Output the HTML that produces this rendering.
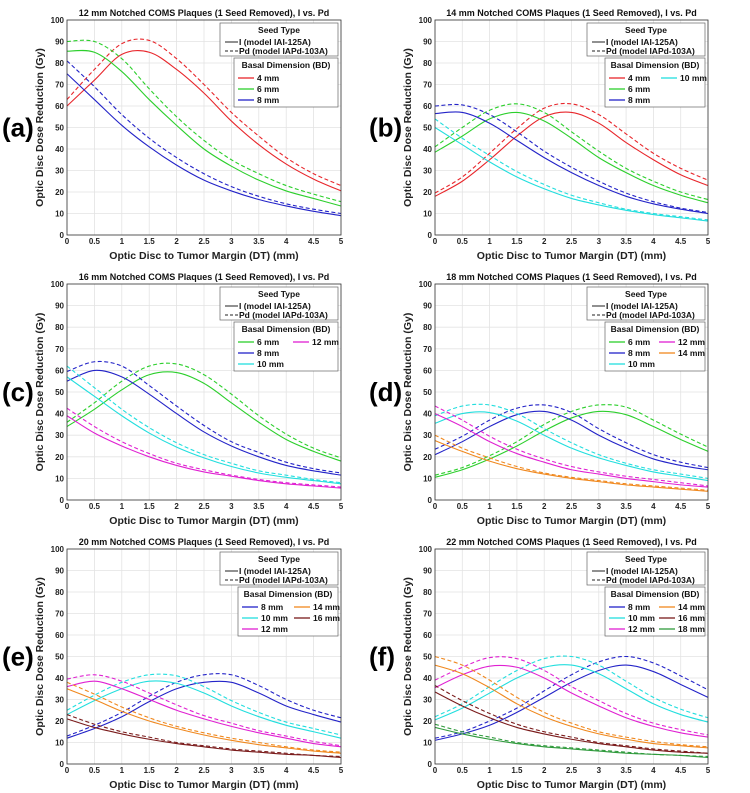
<!DOCTYPE html>
<html><head><meta charset="utf-8">
<style>
html,body{margin:0;padding:0;background:#fff;}
svg{display:block;font-family:"Liberation Sans",Arial,sans-serif;}
</style></head>
<body>
<svg id="fig" width="750" height="793" viewBox="0 0 750 793" xmlns="http://www.w3.org/2000/svg"></svg>
<script>
// shared x grid (mm)
const xGrid = [0,0.5,1,1.5,2,2.5,3,3.5,4,4.5,5];
const xTicks = [0,0.5,1,1.5,2,2.5,3,3.5,4,4.5,5];
const xTickLabels = ["0","0.5","1","1.5","2","2.5","3","3.5","4","4.5","5"];
const yTicks = [0,10,20,30,40,50,60,70,80,90,100];

// Panel (a) 12 mm
const aLabels = ["4  mm","6  mm","8  mm"];
const aI = [[60,72,84,85,77,66,53,42,33,26,20.5],[85.5,85,76,63,51,40,32,25.5,20.5,17,13.5],[75,63,51,41,32.5,25.5,20.5,16.5,13.5,11,9]];
const aPd = [[63,77,89,90.5,82,70,57,46,36,28.5,23],[90,90,82,68,55,44,35,28.5,23,19,15.5],[81,69,56,45,36,28.5,22.5,18,14.5,12,10]];
// Panel (b) 14 mm
const bLabels = ["4  mm","6  mm","8  mm","10 mm"];
const bI = [[18,25,35,46,55,57,52,43,35,28,23],[38.5,46,54,57,53,45,36,29,23,18.5,15],[56.5,57,52,44,36,29,23,18,14.5,12,10],[50,42,34,27,21.5,17,14,11.5,9.5,8,6.5]];
const bPd = [[19.5,27,38,49.5,59,61,56,47,38,31,25.5],[41,50,58,61,57,48,39,31,25,20,16.5],[60,60.5,56,48,39,31.5,25,19.5,15.5,12.5,10.5],[54,45,37,29.5,23.5,18.5,15,12,10,8.5,7]];
// Panel (c) 16 mm
const cLabels = ["6  mm","8  mm","10  mm","12 mm"];
const cI = [[34,42,51,58,59,54,45,36,28,22.5,18],[55,60,57,49,40,31.5,25,20,16,13.5,11.5],[57,48,39,31,24.5,19.5,15.5,12.5,10.5,9,7.5],[39,31,25,20,16,13,11,9,7.5,6.5,5.5]];
const cPd = [[36,45,55,62,63,58,49,39,30.5,24,19.5],[59.5,64,62,53,43.5,34.5,27,22,17.5,14.5,12.5],[62,52,42,33.5,26.5,21,17,13.5,11.5,9.5,8],[42.5,34,27,21.5,17,14,11.5,9.5,8,7,6]];
// Panel (d) 18 mm
const dLabels = ["6  mm","8  mm","10 mm","12 mm","14 mm"];
const dI = [[10.5,14,19,25,32,38,41,39.5,34,28,22.5],[21,27,34,39.5,41,37,30,24,19,16,14],[35.5,40,40.5,36.5,30,24,19.5,16,13,11,9],[40,34,27,21.5,17.5,14,12,10,8.5,7,6],[27.5,22.5,18,14.5,12,10,8.5,7,6,5,4]];
const dPd = [[11.5,15,20.5,27,35,41,44,43,37,30.5,24.5],[23.5,29.5,37,42.5,44,40.5,33,26.5,21,17.5,15],[39,43.5,44,40,33,26.5,21,17,14,12,10],[43.5,37,29.5,23.5,19,15.5,13,11,9.5,8,6.5],[30,24,19.5,15.5,12.5,10.5,9,7.5,6.5,5.5,4.5]];
// Panel (e) 20 mm
const eLabels = ["8  mm","10 mm","12 mm","14 mm","16 mm"];
const eI = [[12,16.5,22,29,35,38,38,33,27,23,19.5],[23,29.5,35,38.5,37.5,33,27,22,18,15,12],[36,38.5,35,30,25,21,17.5,14.5,12,9.5,8],[35,30,24.5,20,16.5,13.5,11,9,7.5,6,5],[21,17,14,11.5,9.5,8,6.5,5.5,4.5,4,3]];
const ePd = [[13,18,24,31.5,38,41.5,41.5,36.5,30,25,21.5],[25,32,38,41.5,41,36,29.5,24,19.5,16.5,13.5],[39.5,41.5,38.5,33,27.5,22.5,19,15.5,13,10.5,8.5],[38,32.5,26.5,21.5,17.5,14.5,12,10,8,6.5,5.5],[23,18.5,15,12.5,10,8.5,7,6,5,4,3.5]];
// Panel (f) 22 mm
const fLabels = ["8  mm","10 mm","12 mm","14 mm","16 mm","18 mm"];
const fI = [[11,14,18,24,31,38,43.5,46,43,37,31],[20.5,26,33,40,45,46,42,35,28,23,19.5],[35.5,41.5,45.5,45,40,33,27,21.5,17.5,14.5,12.5],[46,42,35.5,28,22,17.5,14,11.5,9.5,8.5,7.5],[33.5,27,21.5,17,14,11.5,9.5,8,6.5,5.5,5],[17,14,11.5,9.5,8,7,6,5,4.5,4,3]];
const fPd = [[12,15,20,26,34,41.5,47.5,50,47,41,34.5],[22,28,36,43.5,49,50,46,38.5,31,25.5,21.5],[39,45,49.5,49,43.5,36,29.5,23.5,19,16,13.5],[50,46,39,31,24,19,15,12.5,10.5,9,8],[36.5,29.5,23.5,18.5,15,12.5,10,8.5,7,6,5],[18.5,15,12.5,10,8.5,7.5,6.5,5.5,4.5,4,3.5]];

const COL = {red:"#e8262b",green:"#2ccf2c",blue:"#2323c8",cyan:"#22dede",mag:"#e021d2",orange:"#f0881e",dred:"#7a1b1b",dgreen:"#2f9a3c"};
const NS = "http://www.w3.org/2000/svg";
const svg = document.getElementById('fig');
function mk(tag, attrs, parent, txt){
  const e = document.createElementNS(NS, tag);
  for (const k in attrs) e.setAttribute(k, attrs[k]);
  if (txt !== undefined) e.textContent = txt;
  (parent||svg).appendChild(e);
  return e;
}
function smoothPath(pts){
  let d = "M"+pts[0][0].toFixed(2)+","+pts[0][1].toFixed(2);
  for (let i=0;i<pts.length-1;i++){
    const p0=pts[Math.max(0,i-1)], p1=pts[i], p2=pts[i+1], p3=pts[Math.min(pts.length-1,i+2)];
    const c1=[p1[0]+(p2[0]-p0[0])/6, p1[1]+(p2[1]-p0[1])/6];
    const c2=[p2[0]-(p3[0]-p1[0])/6, p2[1]-(p3[1]-p1[1])/6];
    d += " C"+c1[0].toFixed(2)+","+c1[1].toFixed(2)+" "+c2[0].toFixed(2)+","+c2[1].toFixed(2)+" "+p2[0].toFixed(2)+","+p2[1].toFixed(2);
  }
  return d;
}
function panel(cfg){
  const g = mk('g', {});
  
  
  const X = v => cfg.x0 + (cfg.x1-cfg.x0)*v/5;
  const Y = v => cfg.y0 - (cfg.y0-cfg.y1)*v/100;
  xTicks.forEach(t=>{ const l=mk('line',{x1:X(t),x2:X(t),y1:cfg.y1,y2:cfg.y0,stroke:"#e3e3e3","stroke-width":0.8},g);
      });
  yTicks.forEach(t=>{ const l=mk('line',{x1:cfg.x0,x2:cfg.x1,y1:Y(t),y2:Y(t),stroke:"#e3e3e3","stroke-width":0.8},g);
      });
  xTicks.forEach((t,i)=>{ const tx=mk('text',{x:X(t),y:cfg.y0+9,"font-size":8,"font-weight":"bold","text-anchor":"middle",fill:"#222"},g,xTickLabels[i]);
      });
  yTicks.forEach(t=>{ const tx=mk('text',{x:cfg.x0-3,y:Y(t)+3,"font-size":8,"font-weight":"bold","text-anchor":"end",fill:"#222"},g,String(t));
      });
  cfg.I.forEach((s,k)=>{
    const pd = mk('path',{d:smoothPath(xGrid.map((x,i)=>[X(x),Y(cfg.Pd[k][i])])),fill:"none",stroke:cfg.colors[k],"stroke-width":1.1,"stroke-dasharray":"4,2.5"},g);
    
    
    const pi = mk('path',{d:smoothPath(xGrid.map((x,i)=>[X(x),Y(s[i])])),fill:"none",stroke:cfg.colors[k],"stroke-width":1.1},g);
    
    
  });
  const fr = mk('rect',{x:cfg.x0,y:cfg.y1,width:cfg.x1-cfg.x0,height:cfg.y0-cfg.y1,fill:"none",stroke:"#333","stroke-width":0.8},g);
   
  const ti = mk('text',{x:(cfg.x0+cfg.x1)/2,y:cfg.y1-4,"font-size":9,"font-weight":"bold","text-anchor":"middle",fill:"#111"},g,cfg.title);
   
  const xl = mk('text',{x:(cfg.x0+cfg.x1)/2,y:cfg.y0+24,"font-size":10.5,"font-weight":"bold","text-anchor":"middle",fill:"#222"},g,"Optic Disc to Tumor Margin (DT) (mm)");
   
  const yc=(cfg.y0+cfg.y1)/2, yx=cfg.x0-24;
  const yl = mk('text',{x:yx,y:yc,"font-size":10.5,"font-weight":"bold","text-anchor":"middle",fill:"#222",transform:"rotate(-90 "+yx+" "+yc+")"},g,"Optic Disc Dose Reduction (Gy)");
   
  const pl = mk('text',{x:cfg.lx,y:yc+9,"font-size":26,"font-weight":"bold",fill:"#000"},g,"("+cfg.id+")");
   
  const r = cfg.x1-3, sw=118, st=cfg.y1+3;
  const lg = mk('g',{},g);
   
  mk('rect',{x:r-sw,y:st,width:sw,height:33,fill:"#fff",stroke:"#666","stroke-width":0.7},lg);
  mk('text',{x:r-sw/2,y:st+10,"font-size":8.5,"font-weight":"bold","text-anchor":"middle",fill:"#111"},lg,"Seed Type");
  mk('line',{x1:r-sw+5,x2:r-sw+18,y1:st+19,y2:st+19,stroke:"#222","stroke-width":1},lg);
  mk('text',{x:r-sw+19,y:st+22,"font-size":8.5,"font-weight":"bold",fill:"#111"},lg,"I (model IAI-125A)");
  mk('line',{x1:r-sw+5,x2:r-sw+18,y1:st+28,y2:st+28,stroke:"#222","stroke-width":1,"stroke-dasharray":"3,2"},lg);
  mk('text',{x:r-sw+19,y:st+31,"font-size":8.5,"font-weight":"bold",fill:"#111"},lg,"Pd (model IAPd-103A)");
  const bw = cfg.bw, bt = cfg.y1+38, bl=r-bw;
  const bg = mk('g',{},g);
   
  mk('rect',{x:bl,y:bt,width:bw,height:49,fill:"#fff",stroke:"#666","stroke-width":0.7},bg);
  mk('text',{x:bl+bw/2,y:bt+10,"font-size":8.5,"font-weight":"bold","text-anchor":"middle",fill:"#111"},bg,"Basal Dimension (BD)");
  cfg.labels.forEach((lab,k)=>{
    const col = Math.floor(k/3), row = k%3;
    const lx = bl+4+col*cfg.col2, ly = bt+20+row*11;
    const en = mk('g',{},bg);
     
    mk('line',{x1:lx,x2:lx+16,y1:ly,y2:ly,stroke:cfg.colors[k],"stroke-width":1.3},en);
    mk('text',{x:lx+19,y:ly+3,"font-size":8.5,"font-weight":"bold",fill:"#111"},en,lab);
  });
}
panel({id:"a",title:"12 mm Notched COMS Plaques (1 Seed Removed), I vs. Pd",x0:67,x1:341,y1:20,y0:235,lx:2,bw:104,col2:52,labels:aLabels,I:aI,Pd:aPd,colors:[COL.red,COL.green,COL.blue]});
panel({id:"b",title:"14 mm Notched COMS Plaques (1 Seed Removed), I vs. Pd",x0:435,x1:708,y1:20,y0:235,lx:369,bw:100,col2:52,labels:bLabels,I:bI,Pd:bPd,colors:[COL.red,COL.green,COL.blue,COL.cyan]});
panel({id:"c",title:"16 mm Notched COMS Plaques (1 Seed Removed), I vs. Pd",x0:67,x1:341,y1:284,y0:500,lx:2,bw:104,col2:55,labels:cLabels,I:cI,Pd:cPd,colors:[COL.green,COL.blue,COL.cyan,COL.mag]});
panel({id:"d",title:"18 mm Notched COMS Plaques (1 Seed Removed), I vs. Pd",x0:435,x1:708,y1:284,y0:500,lx:369,bw:100,col2:50,labels:dLabels,I:dI,Pd:dPd,colors:[COL.green,COL.blue,COL.cyan,COL.mag,COL.orange]});
panel({id:"e",title:"20 mm Notched COMS Plaques (1 Seed Removed), I vs. Pd",x0:67,x1:341,y1:549,y0:764,lx:2,bw:100,col2:52,labels:eLabels,I:eI,Pd:ePd,colors:[COL.blue,COL.cyan,COL.mag,COL.orange,COL.dred]});
panel({id:"f",title:"22 mm Notched COMS Plaques (1 Seed Removed), I vs. Pd",x0:435,x1:708,y1:549,y0:764,lx:369,bw:100,col2:50,labels:fLabels,I:fI,Pd:fPd,colors:[COL.blue,COL.cyan,COL.mag,COL.orange,COL.dred,COL.dgreen]});
</script>
</body></html>
